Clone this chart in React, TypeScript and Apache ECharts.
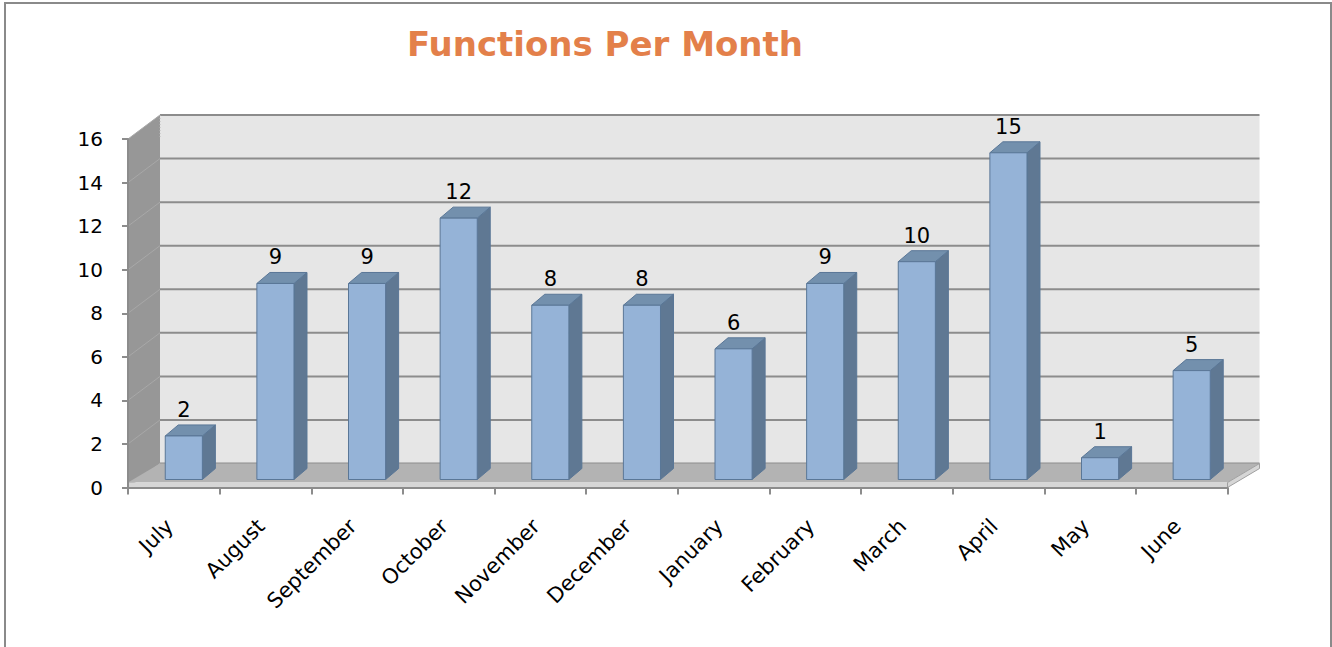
import React, { useEffect, useRef } from "react";
import * as echarts from "echarts";

const months = ["July", "August", "September", "October", "November", "December", "January", "February", "March", "April", "May", "June"];
const functionsCount = [2, 9, 9, 12, 8, 8, 6, 9, 10, 15, 1, 5];
const yMin = 0;
const yMax = 16;
const yStep = 2;
const titleText = "Functions Per Month";

const FONT = "DejaVu Sans";
const WALL_DX = 32;
const WALL_DY = -24;
const BAR_SHIFT_X = 10;
const BAR_SHIFT_Y = -8;
const BAR_DX = 13;
const BAR_DY = -11;
const FRONT = "#95b3d7";
const SIDE = "#5f7893";
const TOP = "#7390ad";
const EDGE = "#5a7797";
const AXIS = "#8c8c8c";

export default function App() {
  const ref = useRef<HTMLDivElement>(null);
  useEffect(() => {
    if (!ref.current) return;
    const chart = echarts.init(ref.current, undefined, { renderer: "svg" });
    const tickVals: number[] = [];
    for (let v = yMin; v <= yMax; v += yStep) tickVals.push(v);

    const option: any = {
      animation: false,
      backgroundColor: "#ffffff",
      graphic: [
        {
          type: "rect",
          shape: { x: 5, y: 3, width: 1326, height: 700 },
          style: { fill: "none", stroke: "#8a8a8a", lineWidth: 2 },
          z: 100,
        },
        {
          type: "text",
          x: 605,
          y: 44,
          style: {
            text: titleText,
            fill: "#e3804a",
            fontFamily: FONT,
            fontWeight: "bold",
            fontSize: 34,
            align: "center",
            verticalAlign: "middle",
          },
        },
      ],
      grid: { left: 128, top: 139, right: 1332 - 1227.5, bottom: 647 - 487.5, containLabel: false },
      xAxis: {
        type: "category",
        data: months,
        boundaryGap: true,
        axisLine: { show: true, lineStyle: { color: AXIS, width: 2 } },
        axisTick: { show: true, length: 7, interval: 0, lineStyle: { color: AXIS, width: 2 } },
        axisLabel: { rotate: 45, margin: 31, padding: [0, 6, 0, 0], interval: 0, color: "#000", fontFamily: FONT, fontSize: 21 },
        splitLine: { show: false },
        z: 10,
      },
      yAxis: {
        type: "value",
        min: yMin,
        max: yMax,
        interval: yStep,
        axisLine: { show: true, lineStyle: { color: AXIS, width: 2 } },
        axisTick: { show: true, length: 6, lineStyle: { color: AXIS, width: 2 } },
        axisLabel: { margin: 25, color: "#000", fontFamily: FONT, fontSize: 20 },
        splitLine: { show: false },
        z: 10,
      },
      series: [
        {
          type: "custom",
          name: "walls",
          z: 1,
          silent: true,
          data: [[0, 0]],
          renderItem: (params: any, api: any) => {
            const cs = params.coordSys;
            const x0 = cs.x, x1 = cs.x + cs.width;
            const yTop = cs.y, yBot = cs.y + cs.height;
            const children: any[] = [];
            children.push({
              type: "rect",
              shape: { x: x0 + WALL_DX, y: yTop + WALL_DY, width: cs.width, height: cs.height },
              style: { fill: "#e6e6e6" },
            });
            tickVals.forEach((v) => {
              const yy = api.coord([0, v])[1];
              children.push({
                type: "line",
                shape: { x1: x0 + WALL_DX, y1: yy + WALL_DY, x2: x1 + WALL_DX, y2: yy + WALL_DY },
                style: { stroke: "#8c8c8c", lineWidth: 2 },
              });
            });
            children.push({
              type: "polygon",
              shape: { points: [[x0, yTop], [x0 + WALL_DX, yTop + WALL_DY], [x0 + WALL_DX, yBot + WALL_DY], [x0, yBot]] },
              style: { fill: "#979797" },
            });
            tickVals.forEach((v) => {
              const yy = api.coord([0, v])[1];
              children.push({
                type: "line",
                shape: { x1: x0, y1: yy, x2: x0 + WALL_DX, y2: yy + WALL_DY },
                style: { stroke: "#a8a8a8", lineWidth: 1 },
              });
            });
            children.push({
              type: "line",
              shape: { x1: x0 + WALL_DX, y1: yTop + WALL_DY, x2: x0 + WALL_DX, y2: yTop },
              style: { stroke: "#b8b8b8", lineWidth: 1, lineDash: [1, 2] },
            });
            children.push({
              type: "polygon",
              shape: { points: [[x0, yBot - 5], [x1, yBot - 5], [x1 + WALL_DX, yBot + WALL_DY], [x0 + WALL_DX, yBot + WALL_DY]] },
              style: { fill: "#b3b3b3" },
            });
            children.push({
              type: "rect",
              shape: { x: x0, y: yBot - 5, width: cs.width, height: 5 },
              style: { fill: "#d6d6d6" },
            });
            children.push({
              type: "polygon",
              shape: { points: [[x1, yBot - 5], [x1 + WALL_DX, yBot + WALL_DY], [x1 + WALL_DX, yBot + WALL_DY + 5], [x1, yBot]] },
              style: { fill: "#d6d6d6", stroke: "#a0a0a0", lineWidth: 1 },
            });
            return { type: "group", children };
          },
        },
        {
          type: "custom",
          name: "Functions",
          z: 5,
          data: functionsCount.map((v, i) => [i, v]),
          renderItem: (params: any, api: any) => {
            const i = api.value(0);
            const v = api.value(1);
            const base = api.coord([i, 0]);
            const top = api.coord([i, v]);
            const band = api.size([1, 0])[0];
            const w = band * 0.405;
            const cx = base[0] + BAR_SHIFT_X;
            const bx0 = cx - w / 2;
            const bx1 = cx + w / 2;
            const yb = base[1] + BAR_SHIFT_Y;
            const yt = top[1] + BAR_SHIFT_Y;
            return {
              type: "group",
              children: [
                {
                  type: "polygon",
                  shape: { points: [[bx1, yb], [bx1, yt], [bx1 + BAR_DX, yt + BAR_DY], [bx1 + BAR_DX, yb + BAR_DY]] },
                  style: { fill: SIDE, stroke: EDGE, lineWidth: 1 },
                },
                {
                  type: "polygon",
                  shape: { points: [[bx0, yt], [bx1, yt], [bx1 + BAR_DX, yt + BAR_DY], [bx0 + BAR_DX, yt + BAR_DY]] },
                  style: { fill: TOP, stroke: EDGE, lineWidth: 1 },
                },
                {
                  type: "rect",
                  shape: { x: bx0, y: yt, width: w, height: yb - yt },
                  style: { fill: FRONT, stroke: EDGE, lineWidth: 1 },
                },
                {
                  type: "text",
                  x: cx,
                  y: yt + BAR_DY - 15,
                  style: {
                    text: String(v),
                    fill: "#000",
                    fontFamily: FONT,
                    fontSize: 21,
                    align: "center",
                    verticalAlign: "middle",
                  },
                },
              ],
            };
          },
        },
      ],
    };
    chart.setOption(option);
    return () => chart.dispose();
  }, []);
  return (
    <div
      ref={ref}
      style={{ position: "fixed", left: 0, top: 0, width: 1332, height: 647, background: "#fff" }}
    />
  );
}
